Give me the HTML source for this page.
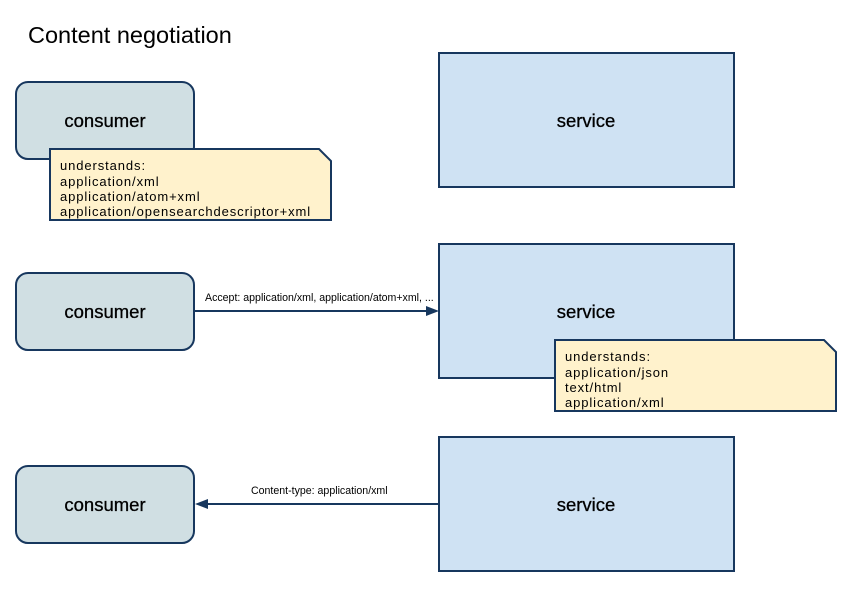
<!DOCTYPE html>
<html><head><meta charset="utf-8"><style>body{margin:0;background:#fff}svg{display:block}</style></head><body>
<svg width="852" height="593" viewBox="0 0 852 593" xmlns="http://www.w3.org/2000/svg" font-family="Liberation Sans, Arial, sans-serif">
<rect width="852" height="593" fill="#fff"/>
<text x="28" y="43" font-size="23.5" fill="#000">Content negotiation</text>
<g stroke="#17375e" stroke-width="2">
<rect x="16" y="82" width="178" height="77" rx="12" fill="#d0dfe3"/>
<rect x="16" y="273" width="178" height="77" rx="12" fill="#d0dfe3"/>
<rect x="16" y="466" width="178" height="77" rx="12" fill="#d0dfe3"/>
<rect x="439" y="53" width="295" height="134" fill="#cfe2f3"/>
<rect x="439" y="244" width="295" height="134" fill="#cfe2f3"/>
<rect x="439" y="437" width="295" height="134" fill="#cfe2f3"/>
<path d="M50 149 H319 L331 161 V220 H50 Z" fill="#fff2cc"/>
<path d="M555 340 H824 L836 352 V411 H555 Z" fill="#fff2cc"/>
<line x1="195" y1="311" x2="428" y2="311"/>
<line x1="208" y1="504" x2="438" y2="504"/>
</g>
<path d="M439 311 L426 306 L426 316 Z" fill="#17375e"/>
<path d="M195 504 L208 499 L208 509 Z" fill="#17375e"/>
<g font-size="18.5" text-anchor="middle" fill="#000" stroke="#000" stroke-width="0.3">
<text x="105" y="127">consumer</text>
<text x="105" y="318">consumer</text>
<text x="105" y="511">consumer</text>
<text x="586" y="127">service</text>
<text x="586" y="318">service</text>
<text x="586" y="511">service</text>
</g>
<g font-size="13" letter-spacing="0.9" fill="#000">
<text x="60" y="170">understands:</text>
<text x="60" y="186">application/xml</text>
<text x="60" y="201">application/atom+xml</text>
<text x="60" y="216">application/opensearchdescriptor+xml</text>
<text x="565" y="361">understands:</text>
<text x="565" y="377">application/json</text>
<text x="565" y="392">text/html</text>
<text x="565" y="407">application/xml</text>
</g>
<g font-size="10.6" fill="#000">
<text x="205" y="301">Accept: application/xml, application/atom+xml, ...</text>
<text x="251" y="494">Content-type: application/xml</text>
</g>
</svg>
</body></html>
